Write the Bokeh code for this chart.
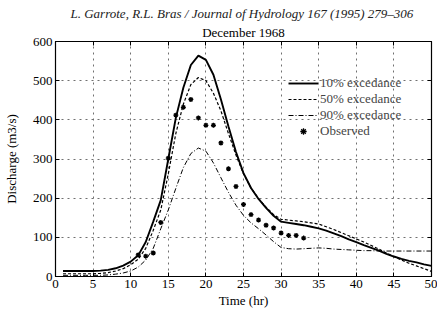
from bokeh.plotting import figure
from bokeh.models import (LinearAxis, Title, Legend, LegendItem, FixedTicker,
                          Range1d, ColumnDataSource)
from bokeh.embed import file_html
from bokeh.resources import INLINE

hours = list(range(1, 51))
exc10 = [14, 14, 14, 14, 14, 15, 17, 21, 28, 38, 54, 88, 140, 195, 300, 405, 482,
         540, 564, 553, 515, 452, 383, 318, 264, 226, 198, 175, 155, 140, 137, 134,
         131, 127, 123, 117, 110, 103, 95, 88, 80, 73, 66, 58, 51, 45, 40, 36, 31, 27]
exc50 = [7, 7, 7, 7, 7, 8, 10, 14, 20, 30, 44, 72, 118, 170, 262, 365, 440, 490,
         508, 500, 468, 423, 365, 310, 262, 226, 199, 177, 158, 146, 144, 142, 140,
         137, 134, 127, 120, 112, 104, 96, 88, 79, 70, 60, 51, 42, 34, 27, 20, 13]
exc90 = [3, 3, 3, 3, 3, 3, 4, 6, 9, 14, 24, 42, 72, 122, 170, 225, 278, 314, 328,
         320, 290, 252, 215, 182, 156, 137, 122, 106, 89, 74, 71, 70, 71, 72, 73,
         72, 70, 69, 68, 67, 66, 66, 65, 65, 65, 65, 65, 65, 65, 65]
obs_hours = list(range(11, 34))
observed = [55, 52, 60, 138, 302, 412, 432, 452, 405, 386, 386, 341, 275, 230,
            184, 158, 144, 131, 124, 111, 105, 105, 98]
x_ticks = [0, 5, 10, 15, 20, 25, 30, 35, 40, 45, 50]
y_ticks = [0, 100, 200, 300, 400, 500, 600]
legend_labels = ["10% excedance", "50% excedance", "90% excedance", "Observed"]

FONT = "Liberation Serif"

p = figure(width=437, height=310, output_backend="svg", toolbar_location=None,
           x_range=Range1d(0, 50), y_range=Range1d(0, 600),
           min_border_left=52, min_border_right=6, min_border_top=41,
           min_border_bottom=32, background_fill_color="white",
           border_fill_color="white")
p.outline_line_color = "black"
p.outline_line_width = 1.2

p.xgrid.ticker = FixedTicker(ticks=x_ticks)
p.ygrid.ticker = FixedTicker(ticks=y_ticks)
p.grid.grid_line_color = "#707070"
p.grid.grid_line_dash = "dotted"
p.grid.grid_line_width = 1
p.grid.grid_line_alpha = 1.0

src = ColumnDataSource(dict(h=hours, a=exc10, b=exc50, c=exc90))
r1 = p.line("h", "a", source=src, line_color="black", line_width=1.9)
r2 = p.line("h", "b", source=src, line_color="black", line_width=1.2, line_dash="3 2")
r3 = p.line("h", "c", source=src, line_color="black", line_width=1.0, line_dash="5 2 1 2")
r4 = p.scatter(obs_hours, observed, marker="asterisk", size=5, line_color="black",
               line_width=1.3)

for ax in (p.xaxis[0], p.yaxis[0]):
    ax.major_label_text_font = FONT
    ax.major_label_text_font_size = "13px"
    ax.major_label_text_color = "black"
    ax.axis_label_text_font = FONT
    ax.axis_label_text_font_size = "13px"
    ax.axis_label_text_font_style = "normal"
    ax.axis_label_text_color = "black"
    ax.major_tick_in = 4
    ax.major_tick_out = 0
    ax.minor_tick_line_color = None
    ax.axis_line_color = "black"
    ax.major_tick_line_color = "black"
    ax.major_label_standoff = 3

p.xaxis.ticker = FixedTicker(ticks=x_ticks)
p.yaxis.ticker = FixedTicker(ticks=y_ticks)
p.xaxis.axis_label = "Time (hr)"
p.yaxis.axis_label = "Discharge (m3/s)"
p.xaxis.axis_label_standoff = 2
p.yaxis.axis_label_standoff = 11

# mirrored inward ticks on the top and right edges (labels not drawn)
top_ax = LinearAxis(ticker=FixedTicker(ticks=x_ticks), major_label_text_font_size="0px",
                    major_label_text_color=None,
                    major_tick_in=4, major_tick_out=0, minor_tick_line_color=None,
                    major_label_standoff=0, axis_line_color="black",
                    major_tick_line_color="black")
right_ax = LinearAxis(ticker=FixedTicker(ticks=y_ticks), major_label_text_font_size="0px",
                      major_label_text_color=None,
                      major_tick_in=4, major_tick_out=0, minor_tick_line_color=None,
                      major_label_standoff=0, axis_line_color="black",
                      major_tick_line_color="black")
p.add_layout(right_ax, "right")

legend = Legend(items=[LegendItem(label=legend_labels[0], renderers=[r1]),
                       LegendItem(label=legend_labels[1], renderers=[r2]),
                       LegendItem(label=legend_labels[2], renderers=[r3]),
                       LegendItem(label=legend_labels[3], renderers=[r4])],
                location=(233, 137), padding=0, margin=0, spacing=0,
                glyph_width=30, glyph_height=16, label_height=16,
                label_standoff=2, label_text_font=FONT,
                label_text_font_size="13px", border_line_color=None,
                background_fill_alpha=0)
p.add_layout(legend, "center")

p.add_layout(top_ax, "above")
p.add_layout(Title(text="December 1968", align="center", text_font=FONT,
                   text_font_size="13px", text_font_style="normal",
                   text_color="black", standoff=4), "above")
p.add_layout(Title(text="L. Garrote, R.L. Bras / Journal of Hydrology 167 (1995) 279\u2013306",
                   align="left", offset=15, text_font=FONT, text_font_size="13px",
                   text_font_style="italic", text_color="#222222", standoff=0), "above")

open("out.html", "w").write(file_html(p, INLINE))
